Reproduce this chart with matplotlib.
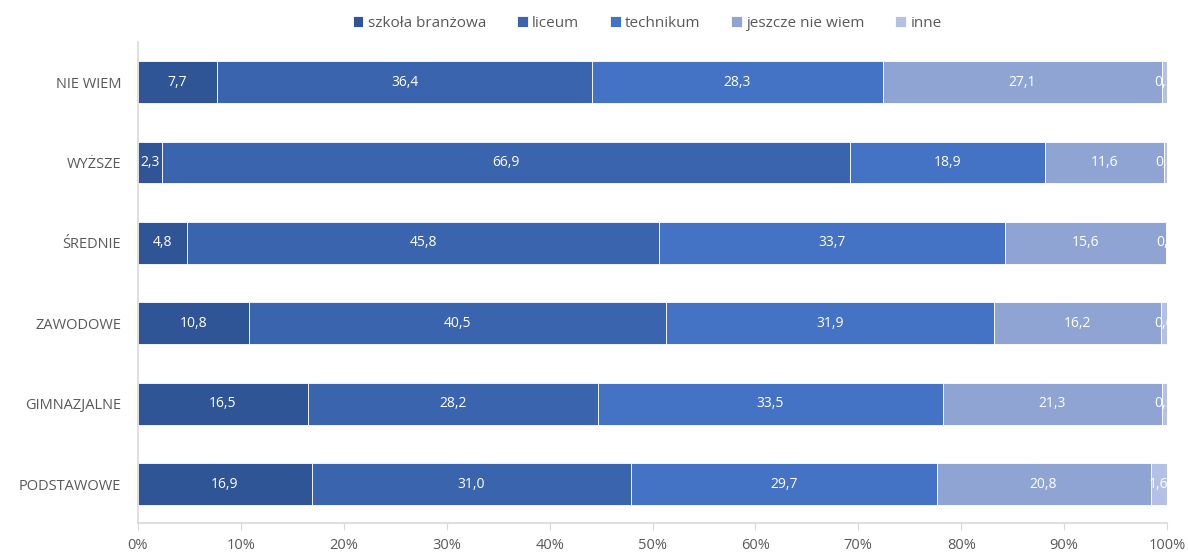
import matplotlib
import matplotlib.pyplot as plt
from matplotlib.ticker import FuncFormatter

matplotlib.rcParams["font.family"] = ["Open Sans", "DejaVu Sans"]

# dane
CATEGORIES = ["NIE WIEM", "WYŻSZE", "ŚREDNIE", "ZAWODOWE", "GIMNAZJALNE", "PODSTAWOWE"]
SERIES = ["szkoła branżowa", "liceum", "technikum", "jeszcze nie wiem", "inne"]
BRANZOWA = [7.7, 2.3, 4.8, 10.8, 16.5, 16.9]
LICEUM = [36.4, 66.9, 45.8, 40.5, 28.2, 31.0]
TECHNIKUM = [28.3, 18.9, 33.7, 31.9, 33.5, 29.7]
NIE_WIEM = [27.1, 11.6, 15.6, 16.2, 21.3, 20.8]
INNE = [0.5, 0.3, 0.1, 0.6, 0.5, 1.6]

COLORS = ["#2F5597", "#3A64AD", "#4472C4", "#8FA4D3", "#B4C1E4"]

fig = plt.figure(figsize=(11.88, 5.54), dpi=100)
ax = fig.add_axes([138 / 1188, 1 - 523 / 554, (1167 - 138) / 1188, (523 - 42) / 554])

n = len(CATEGORIES)
ypos = [n - 1 - i for i in range(n)]
left = [0.0] * n
for name, vals, col in zip(SERIES, [BRANZOWA, LICEUM, TECHNIKUM, NIE_WIEM, INNE], COLORS):
    ax.barh(ypos, vals, left=left, height=0.52, color=col, edgecolor="white",
            linewidth=0.6, label=name)
    for y, l, v in zip(ypos, left, vals):
        ax.text(l + v / 2, y, f"{v:.1f}".replace(".", ","), ha="center", va="center",
                color="white", fontsize=10, clip_on=True)
    left = [a + b for a, b in zip(left, vals)]

ax.set_xlim(0, 100)
ax.set_ylim(-0.485, n - 0.5)
ax.set_yticks(ypos)
ax.set_yticklabels(CATEGORIES)
ax.set_xticks(range(0, 101, 10))
ax.xaxis.set_major_formatter(FuncFormatter(lambda v, p: f"{int(v)}%"))

for s in ["top", "right"]:
    ax.spines[s].set_visible(False)
for s in ["left", "bottom"]:
    ax.spines[s].set_color("#D9D9D9")
    ax.spines[s].set_linewidth(1.2)
ax.tick_params(axis="y", length=0, pad=12, labelsize=10.5, labelcolor="#595959")
ax.tick_params(axis="x", length=5, color="#D9D9D9", pad=6, labelsize=10.5,
               labelcolor="#595959")

ax.legend(loc="upper center", bbox_to_anchor=(0.495, 1.083),
          ncol=5, frameon=False, fontsize=11, handlelength=0.7, handleheight=0.7,
          handletextpad=0.3, columnspacing=2.0, labelcolor="#595959")

fig.savefig("out.png", dpi=100)
